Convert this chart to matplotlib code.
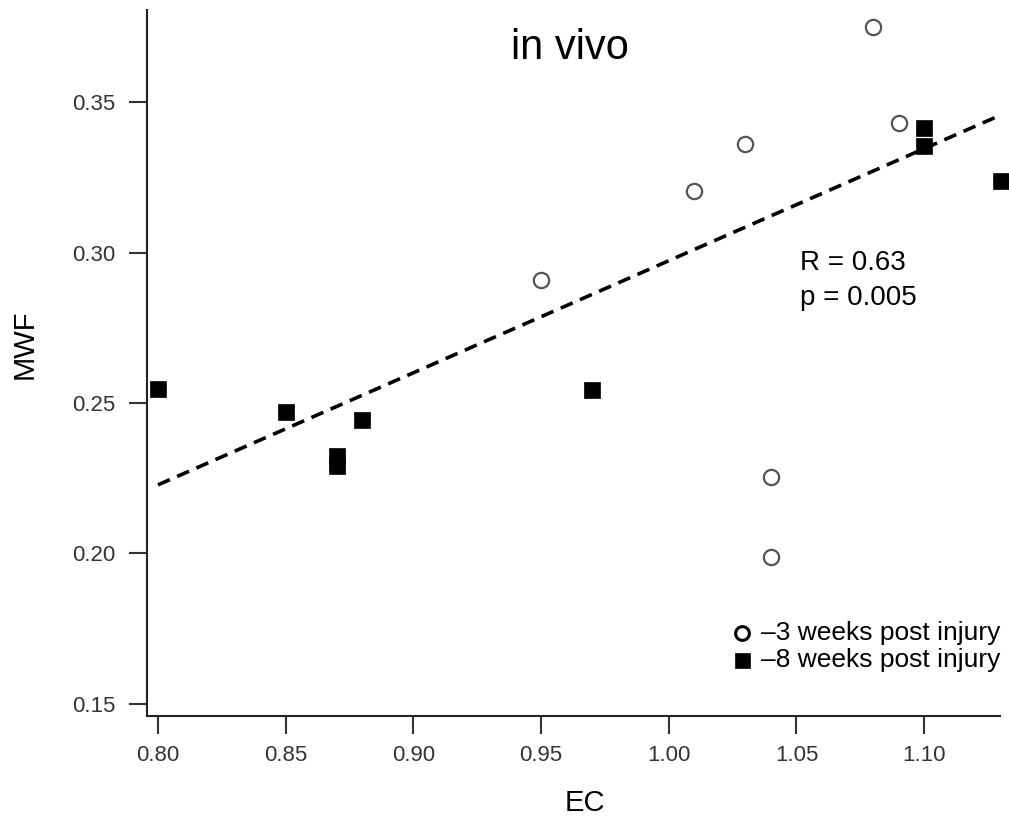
import matplotlib
matplotlib.use("Agg")
import matplotlib.pyplot as plt

plt.rcParams['font.family'] = ['Liberation Sans', 'DejaVu Sans']

# 3 weeks post injury (open circles)
ec_3w = [0.95, 1.01, 1.03, 1.08, 1.09, 1.04, 1.04]
mwf_3w = [0.291, 0.3205, 0.336, 0.375, 0.343, 0.2255, 0.199]

# 8 weeks post injury (filled squares)
ec_8w = [0.80, 0.85, 0.87, 0.87, 0.88, 0.97, 1.10, 1.10, 1.13]
mwf_8w = [0.2545, 0.247, 0.2325, 0.229, 0.2443, 0.2543, 0.3415, 0.3355, 0.3237]

# regression line end points
fit_x = [0.80, 1.13]
fit_y = [0.2228, 0.3457]

x_ticks = [0.80, 0.85, 0.90, 0.95, 1.00, 1.05, 1.10]
y_ticks = [0.15, 0.20, 0.25, 0.30, 0.35]

fig = plt.figure(figsize=(10.09, 8.19), dpi=100)
ax = fig.add_axes([147 / 1009, 103 / 819, 853 / 1009, 706 / 819])

ax.plot(fit_x, fit_y, color='black', linewidth=2.6, linestyle=(0, (3.6, 2.2)), zorder=2)
h3 = ax.scatter(ec_3w, mwf_3w, s=11 ** 2, marker='o', facecolor='white',
                edgecolor='#555555', linewidths=1.6, zorder=3, clip_on=False)
h8 = ax.scatter(ec_8w, mwf_8w, s=12 ** 2, marker='s', facecolor='black',
                edgecolor='black', linewidths=0.5, zorder=4, clip_on=False)

ax.set_xlim(0.7957, 1.1297)
ax.set_ylim(0.146, 0.3806)
ax.set_xticks(x_ticks)
ax.set_xticklabels(['%.2f' % v for v in x_ticks])
ax.set_yticks(y_ticks)
ax.set_yticklabels(['%.2f' % v for v in y_ticks])

for side in ['top', 'right']:
    ax.spines[side].set_visible(False)
for side in ['left', 'bottom']:
    ax.spines[side].set_linewidth(1.5)
    ax.spines[side].set_color('#222222')

ax.tick_params(axis='both', direction='out', length=13, width=1.5, color='#333333',
               labelsize=16, labelcolor='#333333')
ax.tick_params(axis='x', pad=8)
ax.tick_params(axis='y', pad=10)

ax.set_xlabel('EC', fontsize=21)
ax.set_ylabel('MWF', fontsize=21)
ax.xaxis.set_label_coords(0.5135, -0.1034)
ax.yaxis.set_label_coords(-0.127, 0.527)

ax.text(0.9613, 0.368, 'in vivo', fontsize=30, ha='center', va='center')
ax.text(1.0514, 0.2965, 'R = 0.63', fontsize=20, ha='left', va='center')
ax.text(1.0514, 0.2849, 'p = 0.005', fontsize=20, ha='left', va='center')

leg = ax.legend([h3, h8], ['–3 weeks post injury', '–8 weeks post injury'],
                loc='lower right', bbox_to_anchor=(1.0, 0.062), frameon=False,
                fontsize=19, handlelength=0.8, handletextpad=0.3, labelspacing=0.12,
                borderpad=0, borderaxespad=0, markerscale=0.9)
leg.legend_handles[0].set_edgecolor('black')
leg.legend_handles[0].set_linewidth(2.2)

fig.savefig('out.png', dpi=100)
